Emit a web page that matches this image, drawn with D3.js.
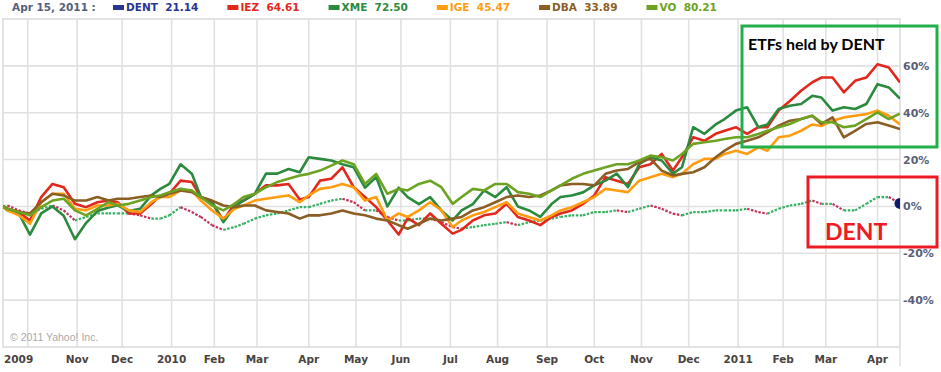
<!DOCTYPE html>
<html>
<head>
<meta charset="utf-8">
<script src="https://cdn.jsdelivr.net/npm/d3@7"></script>
<style>
  body { margin: 0; background: #fff; }
  svg { display: block; }
</style>
</head>
<body>
<div id="chart"></div>
<script>
const dates = [
  '2009-09-16', '2009-09-18', '2009-09-25', '2009-10-02', '2009-10-09', '2009-10-16', '2009-10-23', '2009-10-30',
  '2009-11-06', '2009-11-13', '2009-11-20', '2009-11-27', '2009-12-04', '2009-12-11', '2009-12-18', '2009-12-24', '2009-12-31',
  '2010-01-08', '2010-01-15', '2010-01-22', '2010-01-29', '2010-02-05', '2010-02-12', '2010-02-19', '2010-02-26',
  '2010-03-05', '2010-03-12', '2010-03-19', '2010-03-26', '2010-04-01', '2010-04-09', '2010-04-16', '2010-04-23', '2010-04-30',
  '2010-05-07', '2010-05-14', '2010-05-21', '2010-05-28', '2010-06-04', '2010-06-11', '2010-06-18', '2010-06-25',
  '2010-07-02', '2010-07-09', '2010-07-16', '2010-07-23', '2010-07-30', '2010-08-06', '2010-08-13', '2010-08-20', '2010-08-27',
  '2010-09-03', '2010-09-10', '2010-09-17', '2010-09-24', '2010-10-01', '2010-10-08', '2010-10-15', '2010-10-22', '2010-10-29',
  '2010-11-05', '2010-11-12', '2010-11-19', '2010-11-26', '2010-12-03', '2010-12-10', '2010-12-17', '2010-12-23', '2010-12-31',
  '2011-01-07', '2011-01-14', '2011-01-21', '2011-01-28', '2011-02-04', '2011-02-11', '2011-02-18', '2011-02-25',
  '2011-03-04', '2011-03-11', '2011-03-18', '2011-03-25', '2011-04-01', '2011-04-08', '2011-04-15'
]

// market closed on these weekdays (x axis counts trading days)
const holidays = [
  '2009-11-26', '2009-12-25', '2010-01-01', '2010-01-18', '2010-02-15', '2010-04-02', '2010-05-31',
  '2010-07-05', '2010-09-06', '2010-11-25', '2010-12-24', '2011-01-17', '2011-02-21'
]

const dent = [
  0, 0.4, -1.7, -3, -1, 0.4, -1.7, -6, -4.5, -3, -3, -3, -3, -3.8, -5.2, -5.2, -3.8,
  -0.3, -2.4, -4.5, -8, -10, -8.8, -7.4, -5.2, -3.8, -3, -1.7, -0.3,
  -0.3, 1.1, 2.5, 3.3, 1.8, -1.7, -1.7, -4.5, -6, -6, -5.2, -5.2, -6.7, -8.8, -9.5, -8.8, -8, -7.4,
  -6.7, -8, -6.7, -6, -5.2, -4.5, -3.8, -3.8, -2.4,
  -2.4, -1.7, -2.4, -1, 0.4, -1, -3.1, -3.8, -2.4, -2.4, -1.7, -1.7, -1.7, -1, -2.4, -3.1, -1,
  0.4, 1.1, 2.5, 1.1, 1.1, -1.7, -1.7, 1.1, 4, 4, 1.3
]
const iez = [
  0, -1, -2.4, -6, 4, 9.6, 8.2, 1.1, -0.3, 1.8, 2.5, 1.8, -3, -3, 1, 4.7, 5.4,
  11, 10.4, 4, 1.8, -6, 1.1, 2.5, 5.4, 9, 9, 9.6, 3,
  4, 11, 11.8, 16.7, 8.2, 4, -0.3, -6, -12, -5, -8, -3, -7.4, -11.6, -10, -6, -3.8, -3,
  1.1, -4.5, -6, -8, -4.5, -3, -1.7, 1.1, 4.7,
  12.5, 11, 9.6, 16.7, 18, 22.4, 15.3, 21, 29.5, 28, 31, 32.3, 33.8, 31, 33.8, 33.8, 40.9,
  45, 49.4, 53, 55, 55, 48.7, 53.6, 55, 60.7, 59.3, 52.9
]
const xme = [
  0, -1.7, -3, -12, -3, 0, -4, -14, -7, -2, -0.5, 0.5, -2, -1, 4.7, 7.5, 9.6,
  18, 14, 4, 2, -6.7, 0, 2.5, 5.4, 14, 14, 16, 14.6,
  21, 20.3, 19.6, 18, 16.7, 8, 12.5, 0, 8, 4, 1, 4, -1.7, -6, -1.7, 1, 6.8, 4,
  8.2, 0, -1.7, -4.5, 1, 4, 4.7, 6, 9,
  11, 14, 8.2, 18, 21, 19.6, 14, 16.7, 33.8, 31, 35, 37.3, 40.9, 42.3, 33.8, 35, 41.6,
  43, 43.7, 47.2, 46.5, 40.9, 42.3, 41.6, 43.7, 52.2, 50.8, 46
]
const ige = [
  0, -1.7, -3.8, -7.4, 1.8, 5.4, 5.4, -1, -1.7, 0.4, 0.4, 1.1, -1.7, -2.4, 1.8, 4, 4,
  6.8, 6.8, 2.5, -1.7, -5.2, -1, 0.4, 2.5, 3.3, 4, 4.7, 1.8,
  4.7, 7.5, 8.2, 9.6, 8.2, 2.5, 4, -6, -3, -4.5, -1.7, 1.8, -1.7, -8.8, -6, -3.8, -2.4, -0.3,
  1.8, -3, -4.5, -6, -3.8, -1.7, -0.3, 1.8, 4,
  7.5, 6.8, 6.1, 11, 12.5, 13.9, 12.5, 13.9, 18, 20.3, 20.3, 22.4, 23.8, 22.4, 25.2, 23.8, 29.5,
  30.2, 32.3, 35, 34.3, 36.6, 38, 38.7, 39.4, 40.9, 38.7, 35
]
const dba = [
  0, -1, -2.4, -3, 1.8, 5.4, 4.7, 2.5, 2.5, 4, 2.5, 3.3, 3.3, 4, 4.7, 4, 5.4,
  6.8, 6.1, 4, 2.5, 0.4, -0.3, 0.4, 0.4, -1.7, -2.4, -3, -5.2,
  -3.8, -3.8, -3, -1.7, -3, -3.8, -5.2, -6, -8, -9.5, -7.4, -5.2, -6, -5.2, -4.5, -1.7, -0.3, 1.8,
  4, 4.7, 4, 4.7, 6.8, 9, 9.6, 9.6, 9,
  13.9, 15.3, 16, 18.9, 20.3, 15.3, 13.2, 13.9, 14.6, 16.7, 21, 23.8, 26.7, 28, 29.5, 31.6, 34.5,
  36.6, 37.3, 38.7, 35.2, 38, 29.5, 32.3, 35.2, 35.9, 34.5, 33
]
const vo = [
  0, -1, -2.4, -3.8, -0.3, 2.5, 3.3, -1.7, -3.8, -1, 1.8, 0.4, 1.1, 2.5, 4, 4.7, 6.1,
  7.5, 6.8, 4, 0.4, -1.7, 1.1, 4, 5.4, 8.2, 10.4, 11.8, 13.2,
  13.9, 15.3, 17.4, 19.6, 18, 9.6, 13.9, 5.4, 7.5, 6.8, 9.6, 11, 8.2, 1.1, 4, 7.5, 6.8, 9.6,
  9.6, 6.1, 5.4, 4, 6.8, 9, 11.8, 13.9, 15.3,
  16.7, 18, 18, 19.6, 21.7, 21, 19.6, 22.4, 26.7, 27.4, 28, 28.8, 29.5, 29.5, 30.9, 32.3, 33.8,
  35.2, 37.3, 38.7, 35.9, 35.9, 33.8, 34.5, 37.3, 40.1, 37.3, 39.6
]

const tickers = ['DENT', 'IEZ', 'XME', 'IGE', 'DBA', 'VO']
const lastPrices = ['21.14', '64.61', '72.50', '45.47', '33.89', '80.21']
const colours = ['#283593', '#e2281c', '#2b8a3e', '#ff9c10', '#8b5e24', '#6ca323']
const valueSets = [dent, iez, xme, ige, dba, vo]
const yTicks = [60, 40, 20, 0, -20, -40]
const asOf = 'Apr 15, 2011 :'

const width = 941
const height = 372
const plotArea = { left: 3, right: 900, top: 19, bottom: 347 }

const svg = d3.select('#chart').append('svg')
  .attr('width', width)
  .attr('height', height)
  .attr('viewBox', [0, 0, width, height])

const parse = d3.timeParse('%Y-%m-%d')
const fmt = d3.timeFormat('%Y-%m-%d')
const days = dates.map(parse)
const closed = new Set(holidays)

// trading-day index scale, like the original chart
const tradingDays = d3.timeDay.range(days[0], d3.timeDay.offset(days[days.length - 1], 1))
  .filter(d => d.getDay() % 6 !== 0 && !closed.has(fmt(d)))
const dayIndex = new Map(tradingDays.map((d, i) => [fmt(d), i]))
const x = d3.scaleLinear().domain([0, tradingDays.length - 1]).range([plotArea.left, plotArea.right])
const xd = d => x(dayIndex.get(fmt(d)))
const y = d3.scaleLinear().domain([-60, 80]).range([plotArea.bottom, plotArea.top])

// month ticks = first trading day of each month
const monthTicks = tradingDays.filter((d, i) => i > 0 && d.getMonth() !== tradingDays[i - 1].getMonth())

// grid
const grid = svg.append('g').attr('stroke', '#e1e1e1').attr('stroke-width', 1.6)
grid.selectAll('.v').data(monthTicks).join('line')
  .attr('x1', d => xd(d)).attr('x2', d => xd(d))
  .attr('y1', plotArea.top).attr('y2', plotArea.bottom)
grid.selectAll('.h').data(yTicks).join('line')
  .attr('x1', plotArea.left).attr('x2', plotArea.right)
  .attr('y1', d => y(d)).attr('y2', d => y(d))

svg.append('rect')
  .attr('x', plotArea.left).attr('y', plotArea.top)
  .attr('width', plotArea.right - plotArea.left).attr('height', plotArea.bottom - plotArea.top)
  .attr('fill', 'none').attr('stroke', '#dcdcdc').attr('stroke-width', 1.6)
svg.append('line')
  .attr('x1', plotArea.right).attr('x2', plotArea.right).attr('y1', plotArea.bottom).attr('y2', 366)
  .attr('stroke', '#e4e4e4').attr('stroke-width', 1.6)

// y labels on the right
svg.append('g').selectAll('text').data(yTicks).join('text')
  .attr('x', plotArea.right + 3)
  .attr('y', d => y(d))
  .attr('dy', '0.36em')
  .attr('font-family', 'DejaVu Sans, Verdana, sans-serif')
  .attr('font-weight', 'bold')
  .attr('font-size', 11)
  .attr('fill', '#5a6077')
  .text(d => d + '%')

// x labels
const monthFmt = d3.timeFormat('%b')
svg.append('g').selectAll('text').data(monthTicks).join('text')
  .attr('x', (d, i) => i === 0 ? plotArea.left + 1 : xd(d))
  .attr('y', 363)
  .attr('text-anchor', (d, i) => i === 0 ? 'start' : 'middle')
  .attr('font-family', 'DejaVu Sans, Verdana, sans-serif')
  .attr('font-weight', 'bold')
  .attr('font-size', 10.5)
  .attr('fill', '#4a4340')
  .text((d, i) => (i === 0 || d.getMonth() === 0) ? d.getFullYear() : monthFmt(d))

svg.append('text')
  .attr('x', 10).attr('y', 341)
  .attr('font-family', 'Liberation Sans, Arial, sans-serif')
  .attr('font-size', 10.5)
  .attr('fill', '#aaaaaa')
  .text('\u00a9 2011 Yahoo! Inc.')

// series
svg.append('clipPath').attr('id', 'clip')
  .append('rect')
  .attr('x', plotArea.left).attr('y', plotArea.top)
  .attr('width', plotArea.right - plotArea.left).attr('height', plotArea.bottom - plotArea.top)
const plot = svg.append('g').attr('clip-path', 'url(#clip)')

// DENT drawn as up/down coloured ticks
const dentPts = dent.map((v, i) => ({ v, d: days[i] }))
plot.append('g').selectAll('line').data(dentPts.slice(1)).join('line')
  .attr('x1', (p, i) => xd(dentPts[i].d))
  .attr('y1', (p, i) => y(dentPts[i].v))
  .attr('x2', p => xd(p.d))
  .attr('y2', p => y(p.v))
  .attr('stroke', (p, i) => p.v >= dentPts[i].v ? '#34b060' : '#c2335a')
  .attr('stroke-width', 2.2)
  .attr('stroke-dasharray', '2.5 1.5')

const line = d3.line()
  .x((v, i) => xd(days[i]))
  .y(v => y(v))

plot.append('g').selectAll('path').data(valueSets.slice(1)).join('path')
  .attr('d', line)
  .attr('fill', 'none')
  .attr('stroke', (v, i) => colours[i + 1])
  .attr('stroke-width', 2.6)
  .attr('stroke-linejoin', 'round')

plot.append('circle')
  .attr('cx', xd(days[days.length - 1]))
  .attr('cy', y(dent[dent.length - 1]))
  .attr('r', 5.5)
  .attr('fill', '#0d1a66')

// header legend
const head = svg.append('g')
  .attr('font-family', 'DejaVu Sans, Verdana, sans-serif')
  .attr('font-weight', 'bold')
  .attr('font-size', 10.5)
head.append('text').attr('x', 12).attr('y', 11).attr('fill', '#56607a').text(asOf)
let cx = 113
tickers.forEach((t, i) => {
  head.append('rect').attr('x', cx).attr('y', 5).attr('width', 11).attr('height', 5).attr('fill', colours[i])
  const label = head.append('text').attr('x', cx + 13).attr('y', 11).attr('fill', colours[i])
    .text(t + '\u00a0\u00a0' + lastPrices[i])
  cx += 13 + label.node().getComputedTextLength() + 29
})

// annotations
svg.append('rect')
  .attr('x', 742).attr('y', 26).attr('width', 195).attr('height', 121)
  .attr('fill', 'none').attr('stroke', '#23b04b').attr('stroke-width', 3)
svg.append('text')
  .attr('x', 748).attr('y', 50)
  .attr('font-family', 'Lato, sans-serif').attr('font-weight', 'bold').attr('font-size', 16)
  .attr('fill', '#000')
  .text('ETFs held by DENT')
svg.append('rect')
  .attr('x', 808).attr('y', 177).attr('width', 129).attr('height', 70)
  .attr('fill', 'none').attr('stroke', '#ed1c24').attr('stroke-width', 3)
svg.append('text')
  .attr('x', 825).attr('y', 240)
  .attr('font-family', 'Lato, sans-serif').attr('font-weight', 'bold').attr('font-size', 23)
  .attr('fill', '#ed1c24')
  .text('DENT')
</script>
</body>
</html>
